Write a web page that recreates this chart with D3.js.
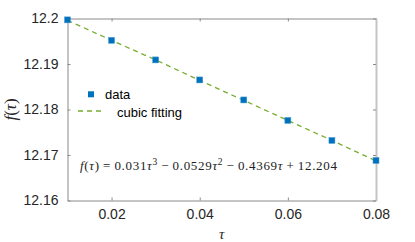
<!DOCTYPE html>
<html>
<head>
<meta charset="utf-8">
<script src="https://cdn.jsdelivr.net/npm/d3@7"></script>
<style>
  body { margin: 0; background: #fff; }
  svg { display: block; }
</style>
</head>
<body>
<svg id="chart"></svg>
<script>
const tau = [0.01, 0.02, 0.03, 0.04, 0.05, 0.06, 0.07, 0.08];
const dataValues = [12.1997, 12.1952, 12.1909, 12.1865, 12.1821, 12.1776, 12.1732, 12.1688];
const fitValues = [12.1996, 12.1952, 12.1909, 12.1864, 12.1820, 12.1776, 12.1732, 12.1687];
const xTicks = [0.02, 0.04, 0.06, 0.08];
const yTicks = [12.16, 12.17, 12.18, 12.19, 12.2];

const width = 415, height = 242;
const margin = { top: 18.5, right: 39, bottom: 41.5, left: 67.5 };

const svg = d3.select("#chart")
    .attr("width", width)
    .attr("height", height);

const x = d3.scaleLinear()
    .domain([0.01, 0.08])
    .range([margin.left, width - margin.right]);

const y = d3.scaleLinear()
    .domain([12.16, 12.2])
    .range([height - margin.bottom, margin.top]);

const axisColor = "#8a8a8a";
const font = "'Liberation Sans', Arial, sans-serif";

// bottom axis, ticks pointing inside
svg.append("g")
    .attr("transform", `translate(0,${y(12.16)})`)
    .call(d3.axisBottom(x).tickValues(xTicks).tickSizeInner(-3).tickSizeOuter(0).tickPadding(9).tickFormat(d3.format(".2f")))
    .call(g => g.selectAll("path,line").attr("stroke", axisColor))
    .call(g => g.selectAll("text").attr("fill", "#262626").style("font-family", font).style("font-size", "14px"));

// left axis
svg.append("g")
    .attr("transform", `translate(${x(0.01)},0)`)
    .call(d3.axisLeft(y).tickValues(yTicks).tickSizeInner(-3).tickSizeOuter(0).tickPadding(9).tickFormat(d => d3.format("")(+d.toFixed(2))))
    .call(g => g.selectAll("path,line").attr("stroke", axisColor))
    .call(g => g.selectAll("text").attr("fill", "#262626").style("font-family", font).style("font-size", "14px"));

// top axis (box)
svg.append("g")
    .attr("transform", `translate(0,${y(12.2)})`)
    .call(d3.axisTop(x).tickValues(xTicks).tickSizeInner(-3).tickSizeOuter(0).tickFormat(""))
    .call(g => g.selectAll("path,line").attr("stroke", axisColor));

// right axis (box)
svg.append("g")
    .attr("transform", `translate(${x(0.08)},0)`)
    .call(d3.axisRight(y).tickValues(yTicks).tickSizeInner(-3).tickSizeOuter(0).tickFormat(""))
    .call(g => g.select("path").attr("stroke", "#c4c4c4").attr("stroke-width", 2))
    .call(g => g.selectAll("line").attr("stroke", axisColor));

// cubic fitting line
const line = d3.line()
    .x((d, i) => x(tau[i]))
    .y(d => y(d));

svg.append("path")
    .datum(fitValues)
    .attr("d", line)
    .attr("fill", "none")
    .attr("stroke", "#77ac30")
    .attr("stroke-width", 1.3)
    .attr("stroke-dasharray", "5,4");

// data markers
svg.selectAll(".pt")
    .data(dataValues)
    .join("rect")
    .attr("class", "pt")
    .attr("x", (d, i) => x(tau[i]) - 3)
    .attr("y", d => y(d) - 3)
    .attr("width", 6)
    .attr("height", 6)
    .attr("fill", "#0072bd")
    .attr("stroke", "#4a9bd4")
    .attr("stroke-width", 0.5);

// legend
svg.append("rect")
    .attr("x", 88).attr("y", 91.3)
    .attr("width", 6).attr("height", 6)
    .attr("fill", "#0072bd");
svg.append("text")
    .attr("x", 105).attr("y", 99)
    .style("font-family", font).style("font-size", "13px")
    .attr("fill", "#000")
    .text("data");
svg.append("line")
    .attr("x1", 78).attr("x2", 104)
    .attr("y1", 111).attr("y2", 111)
    .attr("stroke", "#77ac30")
    .attr("stroke-width", 1.3)
    .attr("stroke-dasharray", "5,4");
svg.append("text")
    .attr("x", 117).attr("y", 116.5)
    .style("font-family", font).style("font-size", "13px")
    .attr("fill", "#000")
    .text("cubic fitting");

// fitted formula
const serif = "'Liberation Serif', 'DejaVu Serif', serif";
const eq = svg.append("text")
    .attr("x", 80).attr("y", 170)
    .attr("textLength", 257)
    .attr("lengthAdjust", "spacing")
    .style("font-family", serif).style("font-size", "13px")
    .attr("fill", "#222");
eq.append("tspan").style("font-style", "italic").text("f");
eq.append("tspan").text("(");
eq.append("tspan").style("font-style", "italic").text("τ");
eq.append("tspan").text(")\u2009=\u20090.031");
eq.append("tspan").style("font-style", "italic").text("τ");
eq.append("tspan").attr("dy", -5).style("font-size", "9.5px").text("3");
eq.append("tspan").attr("dy", 5).text("\u2009−\u20090.0529");
eq.append("tspan").style("font-style", "italic").text("τ");
eq.append("tspan").attr("dy", -5).style("font-size", "9.5px").text("2");
eq.append("tspan").attr("dy", 5).text("\u2009−\u20090.4369");
eq.append("tspan").style("font-style", "italic").text("τ");
eq.append("tspan").text("\u2009+\u200912.204");

// axis labels
svg.append("text")
    .attr("x", x(0.045)).attr("y", 239)
    .attr("text-anchor", "middle")
    .style("font-family", serif).style("font-size", "15px").style("font-style", "italic")
    .attr("fill", "#262626")
    .text("τ");

const yl = svg.append("text")
    .attr("transform", `translate(16,${y(12.18)}) rotate(-90)`)
    .attr("text-anchor", "middle")
    .style("font-family", serif).style("font-size", "17px")
    .attr("fill", "#262626");
yl.append("tspan").style("font-style", "italic").text("f");
yl.append("tspan").text("(");
yl.append("tspan").style("font-style", "italic").text("τ");
yl.append("tspan").text(")");
</script>
</body>
</html>
